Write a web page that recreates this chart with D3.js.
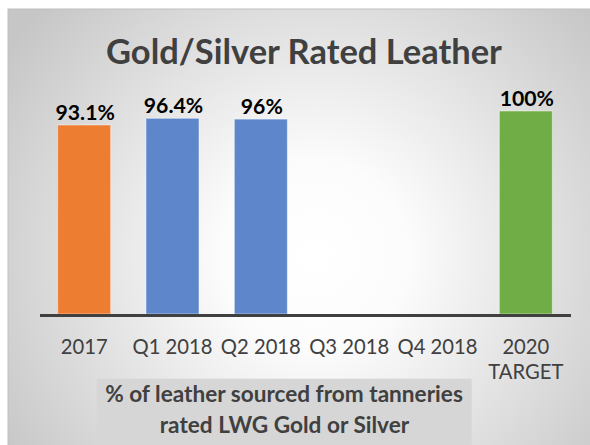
<!DOCTYPE html>
<html>
<head>
<meta charset="utf-8">
<script src="https://cdn.jsdelivr.net/npm/d3@7"></script>
<style>
  html, body { margin: 0; padding: 0; background: #ffffff; }
  svg { display: block; }
  text { font-family: Lato, "Open Sans", "Noto Sans", sans-serif; }
</style>
</head>
<body>
<div id="chart"></div>
<script>
// ---- data ----
const categories = ["2017", "Q1 2018", "Q2 2018", "Q3 2018", "Q4 2018", "2020 TARGET"];
const values = [93.1, 96.4, 96, null, null, 100];
const valueLabels = ["93.1%", "96.4%", "96%", "", "", "100%"];
const barColors = ["#ED7D31", "#5E87CB", "#5E87CB", null, null, "#70AD47"];
const tickLines = [["2017"], ["Q1 2018"], ["Q2 2018"], ["Q3 2018"], ["Q4 2018"], ["2020", "TARGET"]];
const chartTitle = "Gold/Silver Rated Leather";
const noteLines = ["% of leather sourced from tanneries", "rated LWG Gold or Silver"];

// ---- layout ----
const W = 590, H = 445;
const svg = d3.select("#chart").append("svg").attr("width", W).attr("height", H);

const defs = svg.append("defs");
const grad = defs.append("radialGradient").attr("id", "bg")
  .attr("gradientUnits", "userSpaceOnUse")
  .attr("cx", 315).attr("cy", 255).attr("r", 370);
grad.append("stop").attr("offset", 0).attr("stop-color", "#ffffff");
grad.append("stop").attr("offset", 0.25).attr("stop-color", "#fcfcfc");
grad.append("stop").attr("offset", 1).attr("stop-color", "#c6c6c6");

// panel
svg.append("rect").attr("x", 8).attr("y", 9).attr("width", W - 8 + 2).attr("height", H - 9 + 2)
  .attr("fill", "url(#bg)").attr("stroke", "#c0c0c0").attr("stroke-width", 1);

// scales
const x = d3.scaleBand().domain(categories).range([40, 570]).paddingInner(0.4).paddingOuter(0.2);
const y = d3.scaleLinear().domain([0, 100]).range([314, 111]);

function fit(sel, targetW) {
  const fs = parseFloat(sel.attr("font-size"));
  const w = sel.node().getComputedTextLength();
  sel.attr("font-size", (fs * targetW / w).toFixed(2));
  return fs * targetW / w;
}

// title
const title = svg.append("text").attr("x", 304).attr("y", 64.3)
  .attr("text-anchor", "middle").attr("font-weight", 700).attr("font-size", 30)
  .attr("fill", "#404040").text(chartTitle);
fit(title, 396);

// bars
const data = categories.map((c, i) => ({ c, v: values[i], label: valueLabels[i], color: barColors[i] }))
  .filter(d => d.v != null);

svg.append("g").selectAll("rect").data(data).join("rect")
  .attr("x", d => x(d.c)).attr("width", x.bandwidth())
  .attr("y", d => y(d.v)).attr("height", d => y(0) - y(d.v))
  .attr("fill", d => d.color)
  .attr("stroke", "rgba(255,255,255,0.45)").attr("stroke-width", 1);

// value labels
const vl = svg.append("g").selectAll("text").data(data).join("text")
  .attr("x", d => x(d.c) + x.bandwidth() / 2 + 1)
  .attr("y", d => y(d.v) - 5)
  .attr("text-anchor", "middle").attr("font-weight", 700).attr("font-size", 20)
  .attr("fill", "#000000").text(d => d.label);
const labFs = fit(vl.filter((d, i) => i === 1), 59.4);
vl.attr("font-size", labFs.toFixed(2));

// x axis
const axisG = svg.append("g").attr("transform", "translate(0,315.5)")
  .call(d3.axisBottom(x).tickSize(0).tickSizeOuter(0).tickFormat(""));
axisG.selectAll(".tick text").remove();
axisG.select(".domain").attr("stroke", "#404040").attr("stroke-width", 3)
  .attr("d", "M40,0H571");

// tick labels: one text element per line
axisG.selectAll(".tick").each(function (d, i) {
  const g = d3.select(this);
  tickLines[i].forEach((ln, j) => {
    g.append("text").attr("class", "tl").attr("data-line", j)
      .attr("fill", "#404040").attr("font-size", 16).attr("text-anchor", "middle")
      .attr("x", 0).attr("y", 38.5).text(ln);
  });
});
{
  const all = axisG.selectAll("text.tl");
  const ref = all.filter(function () { return this.textContent === "Q1 2018"; });
  const w = ref.node().getComputedTextLength();
  all.attr("font-size", (16 * 80 / w).toFixed(2));
  const lineH = ref.node().getBBox().height + 0.6;
  all.attr("y", function () { return 38.5 + (+this.getAttribute("data-line")) * lineH; });
}

// note box
svg.append("rect").attr("x", 96.7).attr("y", 378.7).attr("width", 375).attr("height", H - 378.7 + 2)
  .attr("fill", "#d6d6d6");
const note = svg.append("g");
const n1 = note.append("text").attr("x", 284).attr("y", 402)
  .attr("text-anchor", "middle").attr("font-weight", 700).attr("font-size", 18)
  .attr("fill", "#404040").text(noteLines[0]);
const nfs = fit(n1, 357.7);
note.append("text").attr("x", 284.5).attr("y", 433)
  .attr("text-anchor", "middle").attr("font-weight", 700).attr("font-size", nfs.toFixed(2))
  .attr("fill", "#404040").text(noteLines[1]);
</script>
</body>
</html>
